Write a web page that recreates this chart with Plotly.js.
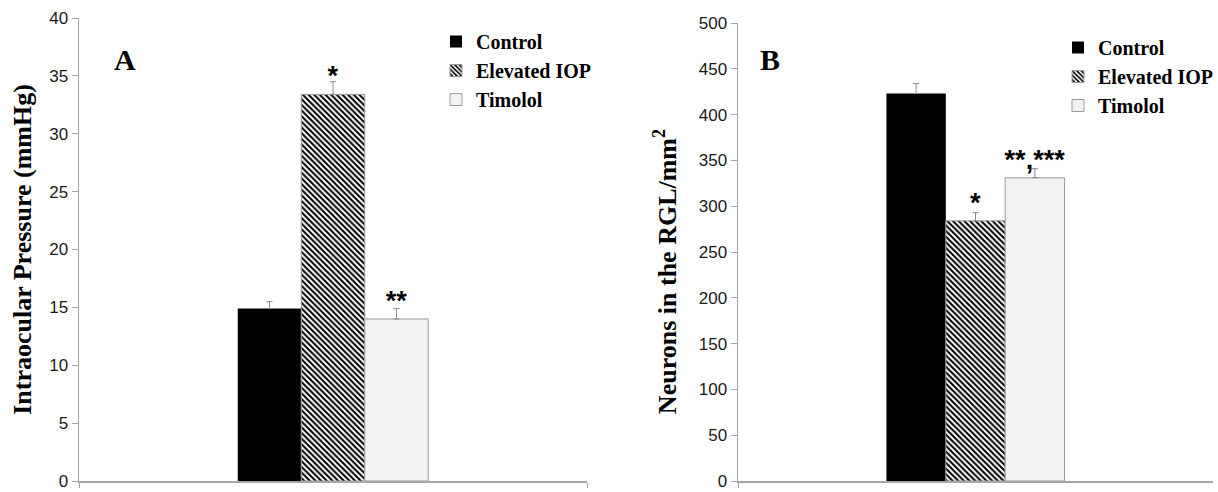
<!DOCTYPE html>
<html>
<head>
<meta charset="utf-8">
<script src="https://cdn.plot.ly/plotly-3.0.1.min.js"></script>
<style>html,body{margin:0;padding:0;background:#fff;}#chart{width:1218px;height:492px;}</style>
</head>
<body>
<div id="chart"></div>
<script>
// ---- data ----
const groups = ['Control', 'Elevated IOP', 'Timolol'];
const iopMean = [14.9, 33.4, 14.0];
const iopSem = [0.6, 1.1, 0.9];
const iopSig = ['', '*', '**'];
const rglMean = [423, 284, 331];
const rglSem = [11, 9, 10];
const rglSig = ['', '*', '**,***'];
const panelCategory = ['A', 'B'];

// ---- styles ----
const fills = ['#000000', '#ffffff', '#f2f2f2'];
const lineCols = ['#000000', '#9a9a9a', '#9a9a9a'];
const patterns = [
  {shape: ''},
  {shape: '\\', fgcolor: '#000000', bgcolor: '#ffffff', size: 4, solidity: 0.5},
  {shape: ''}
];
const serif = 'Liberation Serif, Times New Roman, serif';
const sans = 'Liberation Sans, Arial, sans-serif';
const axisGray = '#a6a6a6';

function panelTraces(means, sems, sigs, cat, xa, ya, legendName) {
  return groups.map((g, i) => {
    const t = {
      type: 'bar', x: [cat], y: [means[i]], name: g,
      xaxis: xa, yaxis: ya, legend: legendName,
      offsetgroup: 'g' + i, legendgroup: legendName + i,
      marker: {color: fills[i], line: {color: lineCols[i], width: i === 0 ? 0 : 1}, pattern: patterns[i]},
      error_y: {type: 'data', symmetric: false, array: [sems[i]], arrayminus: [0],
                color: '#8c8c8c', thickness: 1, width: 3},
      cliponaxis: false,
      hoverinfo: 'y+name'
    };
    if (sigs[i]) {
      t.text = [sigs[i]];
      t.textposition = 'outside';
      t.constraintext = 'none';
      t.outsidetextfont = {family: sans, size: 27, color: '#000', weight: 'bold'};
      t.textfont = {family: sans, size: 27, color: '#000', weight: 'bold'};
    }
    return t;
  });
}

const data = [].concat(
  panelTraces(iopMean, iopSem, iopSig, panelCategory[0], 'x', 'y', 'legend'),
  panelTraces(rglMean, rglSem, rglSig, panelCategory[1], 'x2', 'y2', 'legend2')
);

const W = 1218, H = 492;
const xAxisBase = {
  type: 'category', showline: true, linecolor: axisGray, linewidth: 1.5,
  ticks: 'outside', tickson: 'boundaries', ticklen: 5, tickcolor: axisGray,
  showticklabels: false, showgrid: false, zeroline: false, fixedrange: true
};
const yAxisBase = {
  showline: true, linecolor: axisGray, linewidth: 1.5, ticks: 'outside', ticklen: 6,
  tickcolor: axisGray, tickfont: {family: sans, size: 17, color: '#1a1a1a'},
  ticklabeloverflow: 'allow',
  showgrid: false, zeroline: false, fixedrange: true
};
const legendBase = {
  font: {family: serif, size: 20, color: '#000', weight: 'bold'},
  bgcolor: 'rgba(0,0,0,0)', borderwidth: 0, itemwidth: 30,
  traceorder: 'grouped', tracegroupgap: 0, xanchor: 'left', yanchor: 'top',
  itemclick: false, itemdoubleclick: false
};

const layout = {
  width: W, height: H,
  margin: {l: 0, r: 0, t: 0, b: 0},
  paper_bgcolor: '#ffffff', plot_bgcolor: '#ffffff',
  barmode: 'group', bargap: 0.625, bargroupgap: 0,
  showlegend: true,
  xaxis: Object.assign({}, xAxisBase, {domain: [79 / W, 587 / W], anchor: 'y'}),
  yaxis: Object.assign({}, yAxisBase, {
    domain: [11 / H, 474 / H], anchor: 'x', range: [0, 40], dtick: 5,
    title: {text: 'Intraocular Pressure (mmHg)', font: {family: serif, size: 26, color: '#000', weight: 'bold'}, standoff: 10}
  }),
  xaxis2: Object.assign({}, xAxisBase, {domain: [738 / W, 1213 / W], anchor: 'y2'}),
  yaxis2: Object.assign({}, yAxisBase, {
    domain: [11 / H, 469 / H], anchor: 'x2', range: [0, 500], dtick: 50,
    title: {text: 'Neurons in the RGL/mm<sup>2</sup>&nbsp;&nbsp;&nbsp;&nbsp;&nbsp;&nbsp;', font: {family: serif, size: 26, color: '#000', weight: 'bold'}, standoff: 14}
  }),
  legend: Object.assign({}, legendBase, {x: 436 / W, y: 1 - 22 / H}),
  legend2: Object.assign({}, legendBase, {x: 1058 / W, y: 1 - 28 / H}),
  annotations: [
    {text: 'A', xref: 'paper', yref: 'paper', x: 112 / W, y: 1 - 41 / H, showarrow: false,
     font: {family: serif, size: 30, color: '#000', weight: 'bold'}},
    {text: 'B', xref: 'paper', yref: 'paper', x: 770 / W, y: 1 - 41 / H, showarrow: false,
     font: {family: serif, size: 30, color: '#000', weight: 'bold'}}
  ]
};

Plotly.newPlot('chart', data, layout, {displayModeBar: false, staticPlot: true});
</script>
</body>
</html>
